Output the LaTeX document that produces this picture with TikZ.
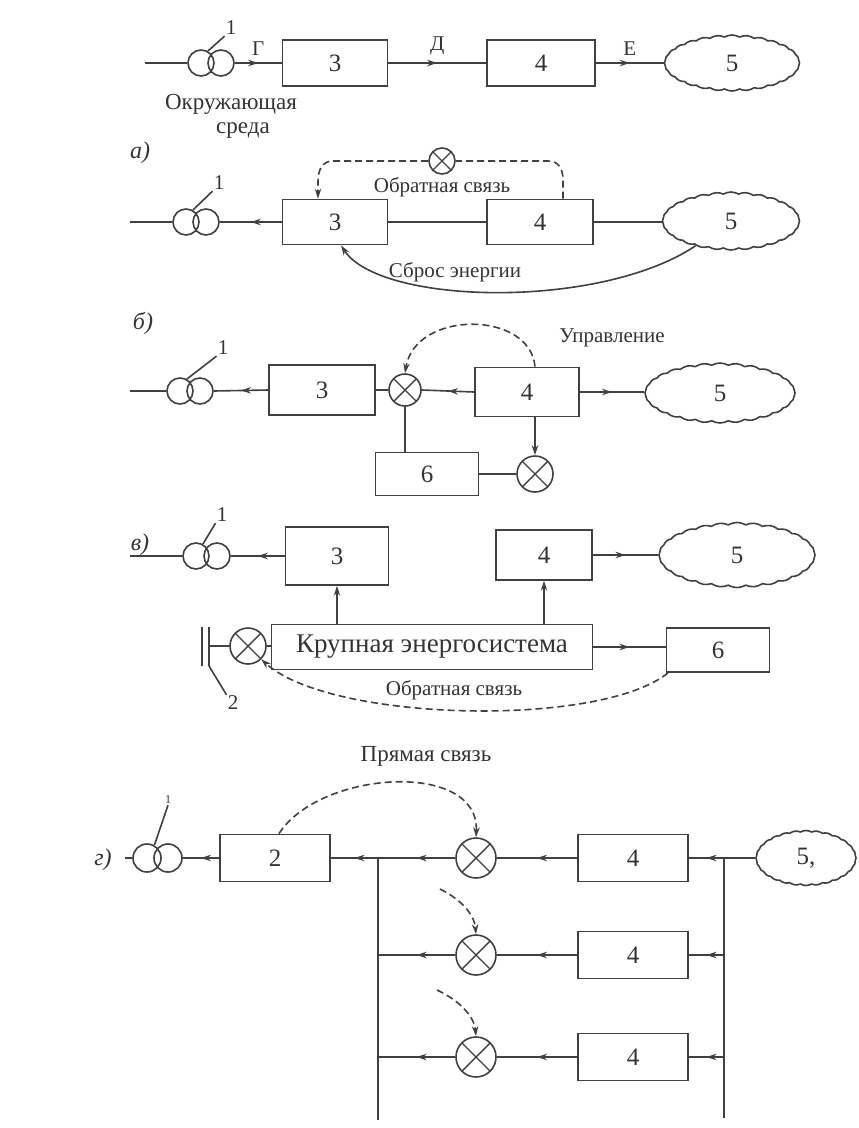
\documentclass[tikz,border=0pt]{standalone}
\usepackage{fontspec}
\setmainfont{Liberation Serif}
\usetikzlibrary{arrows.meta, shapes.symbols, decorations.markings}
\tikzset{>={Stealth[length=10pt, width=6.5pt]}}
\tikzset{
  wire/.style={line width=1.6pt, draw=black!75},
  dash7/.style={dash pattern=on 7pt off 4pt},
  block/.style={draw=black!75, line width=1.8pt, minimum width=105pt, minimum height=46pt,
    inner sep=0pt, font=\fontsize{25}{28}\selectfont, text=black!80},
  cloudy/.style={cloud, draw=black!75, line width=1.6pt, cloud puffs=28, cloud puff arc=60,
    cloud ignores aspect, minimum width=135pt, minimum height=56pt, inner sep=0pt,
    font=\fontsize{25}{28}\selectfont, text=black!80},
  coil/.style={circle, draw=black!75, line width=1.6pt, minimum size=26pt, inner sep=0pt},
  summer/.style={circle, draw=black!75, line width=1.6pt, minimum size=32pt, inner sep=0pt,
    path picture={\draw[line width=1.4pt, black!75]
      (path picture bounding box.south west) -- (path picture bounding box.north east)
      (path picture bounding box.north west) -- (path picture bounding box.south east);}},
  lbl/.style={font=\fontsize{21}{24}\selectfont, text=black!80, inner sep=1pt},
  rowlbl/.style={font=\fontsize{24}{28}\selectfont\itshape, text=black!80},
  flow/.style={postaction={decorate}},
  flowr/.style={postaction={decorate, decoration={markings, reset marks,
    mark=at position 0.5 with {\arrow{Stealth[length=10pt, width=6.5pt]}}}}},
}
\begin{document}
\begin{tikzpicture}[x=1pt, y=-1pt, decoration={markings,
mark=at position 0.5 with {\arrowreversed{Stealth[length=10pt, width=6.5pt]}};}]
    \useasboundingbox (0,0) rectangle (859,1128);
    % a)
    \coordinate (a0) at (145,63);
    \node[coil] (ta1) at (201,63) {};
    \node[coil] (ta2) at (221,63) {};
    \node[lbl] (na) at (231,28) {1};
    \node[block] (sa) at (335,63) {3};
    \node[block, minimum width=108pt] (ua) at (541,63) {4};
    \node[cloudy] (ka) at (732,63) {5};
    \draw[wire] (a0) -- (ta1.west);
    \draw[wire] (ta1.60) -- (na.south west);
    \draw[wire, flowr] (ta2.east) -- (sa.west) node[midway, lbl, above=6pt] {Г};
    \draw[wire, flowr] (sa.east) -- (ua.west) node[midway, lbl, above=6pt] {Д};
    \draw[wire, flowr] (ua.east) -- (ka.west) node[midway, lbl, above=6pt] {Е};
    \node[lbl, font=\fontsize{23}{25}\selectfont] (enva) at (231,104) {Окружающая};
    \node[lbl, font=\fontsize{23}{25}\selectfont] (envb) at (243,131) {среда};
    \node[rowlbl] (rowa) at (140,153) {а)};
    % b)
    \coordinate (b0) at (130,222);
    \node[coil] (tb1) at (186,222) {};
    \node[coil] (tb2) at (206,222) {};
    \node[lbl] (nb) at (219,183) {1};
    \node[block, minimum height=45pt] (sb) at (335,222) {3};
    \node[block, minimum height=45pt, minimum width=106pt] (ub) at (540,222) {4};
    \node[cloudy, minimum width=137pt, minimum height=58pt] (kb) at (731,221) {5};
    \node[summer, minimum size=26pt] (fb) at (442,161) {};
    \draw[wire] (b0) -- (tb1.west);
    \draw[wire] (tb1.60) -- (nb.south west);
    \draw[wire, flow] (tb2.east) -- (sb.west);
    \draw[wire] (sb.east) -- (ub.west);
    \draw[wire] (ub.east) -- (ub.east -| kb.west);
    \draw[wire, dash7] ([xshift=23pt]ub.north) -- (563,180)
        .. controls (563,168) and (558,161) .. (548,161) -- (fb.east);
    \draw[wire, dash7, ->] (fb.west) -- (333,161)
        .. controls (322,161) and (318,170) .. (318,182) -- ([xshift=-17pt]sb.north);
    \node[lbl] (fbt) at (442,187) {Обратная связь};
    \draw[wire, ->] (kb.215) .. controls (600,310) and (380,305) .. ([xshift=6pt]sb.south);
    \node[lbl] (dump) at (455,272) {Сброс энергии};
    \node[rowlbl] (rowb) at (143,323) {б)};
    % c)
    \coordinate (c0) at (130,391);
    \node[coil] (tc1) at (180,391) {};
    \node[coil] (tc2) at (200,391) {};
    \node[lbl] (nc) at (223,348) {1};
    \node[block, minimum width=106pt, minimum height=50pt] (sc) at (322,390) {3};
    \node[summer] (mc) at (405,390) {};
    \node[block, minimum width=104pt, minimum height=49pt] (uc) at (527,392) {4};
    \node[cloudy, minimum width=150pt, minimum height=60pt] (kc) at (720,393) {5};
    \node[block, minimum width=103pt, minimum height=43pt] (gc) at (427,474) {6};
    \node[summer, minimum size=36pt] (nc2) at (535,474) {};
    \draw[wire] (c0) -- (tc1.west);
    \draw[wire] (tc1.60) -- (nc.south west);
    \draw[wire, flow] (tc2.east) -- (sc.west);
    \draw[wire] (sc.east) -- (mc.west);
    \draw[wire, flow] (mc.east) -- (uc.west);
    \draw[wire, flowr] (uc.east) -- (uc.east -| kc.west);
    \draw[wire, dash7, ->] ([xshift=8pt]uc.north) .. controls (530,310) and (415,310) .. (mc.north);
    \node[lbl] (ctrl) at (612,338) {Управление};
    \draw[wire] (mc.south) -- (mc.south |- gc.north);
    \draw[wire] (gc.east) -- (nc2.west);
    \draw[wire, ->] (nc2 |- uc.south) -- (nc2.north);
    % d)
    \coordinate (d0) at (130,556);
    \node[coil] (td1) at (196,556) {};
    \node[coil] (td2) at (217,556) {};
    \node[lbl] (nd) at (222,515) {1};
    \node[block, minimum width=103pt, minimum height=58pt] (sd) at (337,556) {3};
    \node[block, minimum width=96pt, minimum height=50pt] (ud) at (544,555) {4};
    \node[cloudy, minimum width=156pt, minimum height=65pt] (kd) at (737,555) {5};
    \node[block, minimum width=321pt, minimum height=45pt, font=\fontsize{27}{30}\selectfont] (grid) at (432,647) {Крупная энергосистема};
    \node[block, minimum width=103pt, minimum height=44pt] (gd) at (718,650) {6};
    \node[summer, minimum size=36pt] (md) at (248,646) {};
    \coordinate (capa) at (202,627);
    \coordinate (capb) at (202,666);
    \coordinate (capc) at (209,627);
    \coordinate (capd) at (209,666);
    \node[lbl] (n2) at (233,703) {2};
    \draw[wire] (d0) -- (td1.west);
    \draw[wire] (td1.60) -- (nd.south west);
    \draw[wire, flow] (td2.east) -- (sd.west);
    \draw[wire, flowr] (ud.east) -- (kd.west);
    \draw[wire, ->] (sd.south |- grid.north) -- (sd.south);
    \draw[wire, ->] (ud.south |- grid.north) -- (ud.south);
    \draw[wire, flowr] (grid.east) -- (grid.east -| gd.west);
    \draw[wire] (md.east) -- (md.east -| grid.west);
    \draw[wire] (capa) -- (capb);
    \draw[wire] (capc) -- (capd);
    \draw[wire] (md.west) -- (md.west -| capc);
    \draw[wire] (capd) -- (n2.north west);
    \draw[wire, dash7, ->] ([xshift=-50pt]gd.south) .. controls (600,728) and (330,722) .. (md.-45);
    \node[lbl] (fbd) at (454,690) {Обратная связь};
    \node[rowlbl] (rowc) at (140,545) {в)};
    % g)
    \coordinate (e0) at (125,858);
    \node[coil, minimum size=28pt] (te1) at (147,858) {};
    \node[coil, minimum size=28pt] (te2) at (168,858) {};
    \node[lbl, font=\fontsize{12}{14}\selectfont] (ne) at (168,800) {1};
    \node[block, minimum width=110pt, minimum height=47pt] (se) at (275,858) {2};
    \coordinate (busl) at (378,858);
    \coordinate (busle) at (378,1120);
    \coordinate (busr) at (724,858);
    \coordinate (busre) at (724,1118);
    \node[summer, minimum size=40pt] (me1) at (476,858) {};
    \node[summer, minimum size=40pt] (me2) at (476,955) {};
    \node[summer, minimum size=40pt] (me3) at (476,1057) {};
    \node[block, minimum width=110pt, minimum height=47pt] (ue1) at (633,858) {4};
    \node[block, minimum width=110pt, minimum height=47pt] (ue2) at (633,955) {4};
    \node[block, minimum width=110pt, minimum height=47pt] (ue3) at (633,1057) {4};
    \node[cloudy, minimum width=100pt, minimum height=55pt] (ke) at (806,858) {5,};
    \coordinate (pe2) at (440,889);
    \coordinate (pe3) at (437,990);
    \draw[wire] (e0) -- (te1.west);
    \draw[wire] (te1.60) -- (ne.south);
    \draw[wire, flow] (te2.east) -- (se.west);
    \draw[wire, flow] (se.east) -- (busl);
    \draw[wire, flow] (busl) -- (me1.west);
    \draw[wire, flow] (me1.east) -- (ue1.west);
    \draw[wire, flow] (ue1.east) -- (busr);
    \draw[wire] (busr) -- (ke.west);
    \draw[wire] (busl) -- (busle);
    \draw[wire] (busr) -- (busre);
    \draw[wire, flow] (busl |- me2) -- (me2.west);
    \draw[wire, flow] (me2.east) -- (ue2.west);
    \draw[wire, flowr] (busr |- ue2) -- (ue2.east);
    \draw[wire, flow] (busl |- me3) -- (me3.west);
    \draw[wire, flow] (me3.east) -- (ue3.west);
    \draw[wire, flowr] (busr |- ue3) -- (ue3.east);
    \draw[wire, dash7, ->] ([xshift=4pt]se.north) .. controls (320,770) and (480,760) .. (me1.north);
    \node[lbl, font=\fontsize{23}{26}\selectfont] (ff) at (426,756) {Прямая связь};
    \draw[wire, dash7, ->] (pe2) .. controls (458,898) and (474,912) .. (me2.north);
    \draw[wire, dash7, ->] (pe3) .. controls (458,1000) and (474,1015) .. (me3.north);
    \node[rowlbl] (rowd) at (103,860) {г)};
\end{tikzpicture}
\end{document}
